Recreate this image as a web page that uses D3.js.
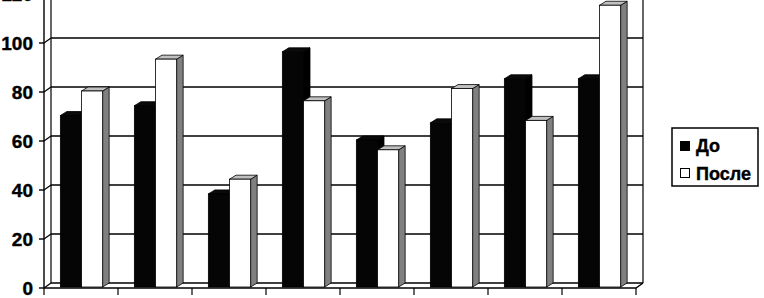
<!DOCTYPE html>
<html lang="ru">
<head>
<meta charset="UTF-8">
<title>До / После</title>
<script src="https://cdnjs.cloudflare.com/ajax/libs/d3/7.8.5/d3.min.js"></script>
<style>
  body { margin: 0; background: #fff; }
  text { font-family: "Liberation Sans", Arial, sans-serif; font-weight: bold; stroke: #000; stroke-width: 0.4px; }
</style>
</head>
<body>
<div id="chart"></div>
<script>
    var categories = ["1", "2", "3", "4", "5", "6", "7", "8"];
    var seriesNames = ["До", "После"];
    var before = [70, 74, 38, 96, 60, 67, 85, 85];
    var after = [80, 93, 44, 76, 56, 81, 68, 115];
    var yTicks = [0, 20, 40, 60, 80, 100, 120];

    var width = 764, height = 298;
    var depth = {dx: 7, dy: -5};       // depth of the 3d walls
    var barFront = {dx: 0.5, dy: -1};  // bars sit a bit behind the front edge

    var svg = d3.select("#chart")
        .append("svg")
        .attr("width", width)
        .attr("height", height);

    var x0 = d3.scaleBand()
        .domain(categories)
        .range([44, 636])
        .paddingInner(0)
        .paddingOuter(0);

    var x1 = d3.scaleBand()
        .domain(seriesNames)
        .range([0, x0.bandwidth()])
        .paddingInner(0)
        .paddingOuter(0.75);

    var y = d3.scaleLinear()
        .domain([0, 120])
        .range([288, -6]);

    var lineColor = "#000";

    // back wall gridlines
    var grid = svg.append("g");
    yTicks.forEach(function (t) {
        grid.append("line")
            .attr("x1", 44 + depth.dx).attr("x2", 636 + depth.dx)
            .attr("y1", y(t) + depth.dy).attr("y2", y(t) + depth.dy)
            .attr("stroke", lineColor).attr("stroke-width", 1.4);
        // diagonal on the side wall
        grid.append("line")
            .attr("x1", 44).attr("x2", 44 + depth.dx)
            .attr("y1", y(t)).attr("y2", y(t) + depth.dy)
            .attr("stroke", lineColor).attr("stroke-width", 1.2);
    });

    // wall edges
    svg.append("line")
        .attr("x1", 44 + depth.dx).attr("x2", 44 + depth.dx)
        .attr("y1", y(0) + depth.dy).attr("y2", y(120) + depth.dy)
        .attr("stroke", lineColor).attr("stroke-width", 1.2);
    svg.append("line")
        .attr("x1", 636 + depth.dx).attr("x2", 636 + depth.dx)
        .attr("y1", y(0) + depth.dy).attr("y2", y(120) + depth.dy)
        .attr("stroke", lineColor).attr("stroke-width", 1.2);

    // floor
    svg.append("path")
        .attr("d", d3.line()([
            [44, y(0)], [636, y(0)], [636 + depth.dx, y(0) + depth.dy]
        ]))
        .attr("fill", "none")
        .attr("stroke", lineColor).attr("stroke-width", 1.4);

    // bars
    function drawBar(g, xl, w, v, colors) {
        var fx = xl + barFront.dx, fy0 = y(0) + barFront.dy, fy1 = y(v) + barFront.dy;
        var bx = depth.dx - barFront.dx, by = depth.dy - barFront.dy;
        g.append("path") // side
            .attr("d", d3.line()([[fx + w, fy1], [fx + w + bx, fy1 + by], [fx + w + bx, fy0 + by], [fx + w, fy0]]) + "Z")
            .attr("fill", colors.side).attr("stroke", "#000").attr("stroke-width", 0.8);
        g.append("path") // top
            .attr("d", d3.line()([[fx, fy1], [fx + bx, fy1 + by], [fx + w + bx, fy1 + by], [fx + w, fy1]]) + "Z")
            .attr("fill", colors.top).attr("stroke", "#000").attr("stroke-width", 0.8);
        g.append("rect") // front
            .attr("x", fx).attr("y", fy1)
            .attr("width", w).attr("height", fy0 - fy1)
            .attr("fill", colors.front).attr("stroke", "#000").attr("stroke-width", 0.8);
    }

    var blackColors = {front: "#050505", top: "#0a0a0a", side: "#000"};
    var whiteColors = {front: "#fff", top: "#c0c0c0", side: "#808080"};

    var bars = svg.append("g");
    categories.forEach(function (c, i) {
        drawBar(bars, x0(c) + x1("До"), x1.bandwidth(), before[i], blackColors);
        drawBar(bars, x0(c) + x1("После"), x1.bandwidth(), after[i], whiteColors);
    });

    // front left axis line
    svg.append("line")
        .attr("x1", 44).attr("x2", 44)
        .attr("y1", y(0)).attr("y2", y(120))
        .attr("stroke", lineColor).attr("stroke-width", 1.4);

    // y ticks + labels
    var yAxis = svg.append("g");
    yTicks.forEach(function (t) {
        yAxis.append("line")
            .attr("x1", 39).attr("x2", 44)
            .attr("y1", y(t)).attr("y2", y(t))
            .attr("stroke", lineColor).attr("stroke-width", 1.4);
        yAxis.append("text")
            .attr("x", 33)
            .attr("y", y(t) + 7)
            .attr("text-anchor", "end")
            .attr("font-size", 19)
            .text(t);
    });

    // x ticks (no labels)
    var xTicks = categories.map(function (c) { return x0(c); }).concat([636]);
    svg.append("g").selectAll("line")
        .data(xTicks)
        .enter().append("line")
        .attr("x1", function (d) { return d; }).attr("x2", function (d) { return d; })
        .attr("y1", y(0)).attr("y2", y(0) + 7)
        .attr("stroke", lineColor).attr("stroke-width", 1.2);

    // legend
    var legend = svg.append("g");
    legend.append("rect")
        .attr("x", 672).attr("y", 128)
        .attr("width", 86).attr("height", 58)
        .attr("fill", "#fff").attr("stroke", "#000").attr("stroke-width", 1.5);
    seriesNames.forEach(function (s, i) {
        legend.append("rect")
            .attr("x", 680.5).attr("y", 141.5 + i * 27)
            .attr("width", 9).attr("height", 9)
            .attr("fill", i === 0 ? "#000" : "#fff")
            .attr("stroke", "#000").attr("stroke-width", 1);
        legend.append("text")
            .attr("x", 696)
            .attr("y", 151.5 + i * 28)
            .attr("font-size", 18)
            .text(s);
    });
</script>
</body>
</html>
